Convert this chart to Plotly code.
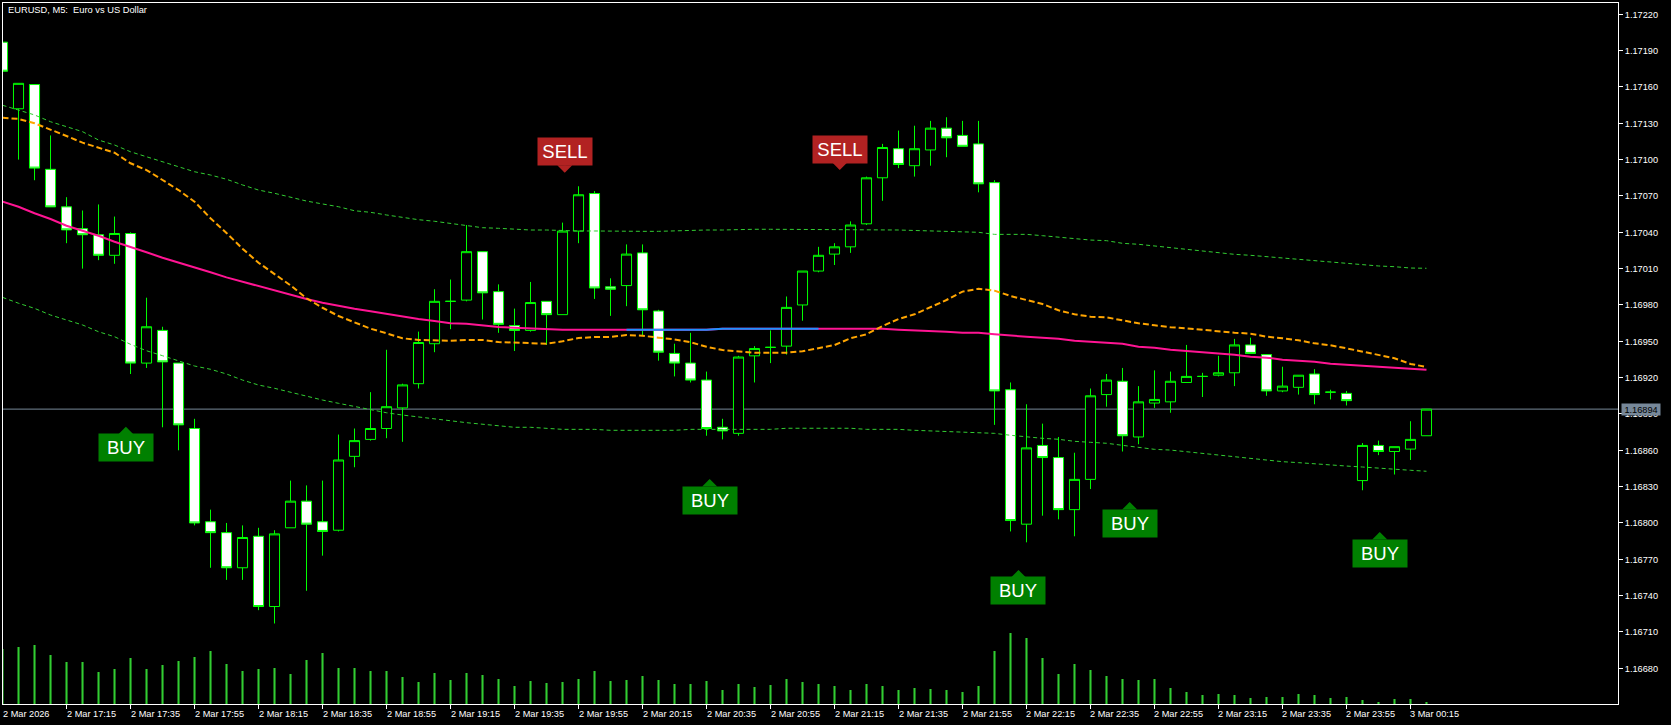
import plotly.graph_objects as go

# ---------------- data ----------------
x_tick_labels = ["2 Mar 2026", "2 Mar 17:15", "2 Mar 17:35", "2 Mar 17:55", "2 Mar 18:15",
                 "2 Mar 18:35", "2 Mar 18:55", "2 Mar 19:15", "2 Mar 19:35", "2 Mar 19:55",
                 "2 Mar 20:15", "2 Mar 20:35", "2 Mar 20:55", "2 Mar 21:15", "2 Mar 21:35",
                 "2 Mar 21:55", "2 Mar 22:15", "2 Mar 22:35", "2 Mar 22:55", "2 Mar 23:15",
                 "2 Mar 23:35", "2 Mar 23:55", "3 Mar 00:15"]
x_tick_bars = [0, 4, 8, 12, 16, 20, 24, 28, 32, 36, 40, 44, 48, 52, 56, 60, 64, 68, 72, 76, 80, 84, 88]

y_tick_values = [1.16680, 1.16710, 1.16740, 1.16770, 1.16800, 1.16830, 1.16860, 1.16890,
                 1.16920, 1.16950, 1.16980, 1.17010, 1.17040, 1.17070, 1.17100, 1.17130,
                 1.17160, 1.17190, 1.17220]

open_ = [1.17197, 1.17142, 1.17162, 1.17092, 1.17061, 1.17043, 1.17038, 1.17021, 1.17039, 1.16932,
         1.16959, 1.16932, 1.16878, 1.16801, 1.16792, 1.16763, 1.16789, 1.16731, 1.16796, 1.16818,
         1.16801, 1.16794, 1.16855, 1.16869, 1.16878, 1.16895, 1.16915, 1.16948, 1.16983, 1.16984,
         1.17024, 1.16991, 1.16963, 1.16959, 1.16983, 1.16972, 1.17041, 1.17072, 1.16995, 1.16996,
         1.17023, 1.16975, 1.16940, 1.16932, 1.16918, 1.16879, 1.16874, 1.16938, 1.16945, 1.16946,
         1.16980, 1.17008, 1.17022, 1.17028, 1.17047, 1.17085, 1.17109, 1.17095, 1.17108, 1.17126,
         1.17120, 1.17113, 1.17081, 1.16910, 1.16799, 1.16864, 1.16854, 1.16811, 1.16836, 1.16906,
         1.16917, 1.16871, 1.16899, 1.16900, 1.16916, 1.16921, 1.16922, 1.16924, 1.16947, 1.16939,
         1.16909, 1.16912, 1.16923, 1.16908, 1.16907, 1.16835, 1.16864, 1.16859, 1.16861, 1.16872]

high = [1.17199, 1.17163, 1.17162, 1.17120, 1.17069, 1.17058, 1.17063, 1.17053, 1.17040, 1.16986,
        1.16962, 1.16932, 1.16886, 1.16811, 1.16800, 1.16798, 1.16796, 1.16794, 1.16835, 1.16831,
        1.16835, 1.16873, 1.16878, 1.16908, 1.16943, 1.16915, 1.16958, 1.16993, 1.17001, 1.17046,
        1.17024, 1.16997, 1.16977, 1.16999, 1.16983, 1.17048, 1.17078, 1.17074, 1.17002, 1.17030,
        1.17030, 1.16976, 1.16948, 1.16957, 1.16925, 1.16886, 1.16938, 1.16946, 1.16959, 1.16987,
        1.17008, 1.17028, 1.17031, 1.17049, 1.17086, 1.17113, 1.17124, 1.17128, 1.17132, 1.17135,
        1.17132, 1.17132, 1.17083, 1.16916, 1.16898, 1.16882, 1.16871, 1.16858, 1.16911, 1.16923,
        1.16928, 1.16913, 1.16926, 1.16925, 1.16947, 1.16924, 1.16938, 1.16952, 1.16953, 1.16939,
        1.16929, 1.16922, 1.16927, 1.16910, 1.16909, 1.16866, 1.16868, 1.16863, 1.16884, 1.16894]

low = [1.17172, 1.17100, 1.17083, 1.17061, 1.17031, 1.17010, 1.17017, 1.17014, 1.16923, 1.16928,
       1.16879, 1.16860, 1.16798, 1.16763, 1.16753, 1.16753, 1.16728, 1.16717, 1.16796, 1.16744,
       1.16773, 1.16793, 1.16846, 1.16868, 1.16870, 1.16867, 1.16911, 1.16941, 1.16960, 1.16983,
       1.16968, 1.16957, 1.16942, 1.16958, 1.16947, 1.16972, 1.17031, 1.16985, 1.16971, 1.16979,
       1.16955, 1.16934, 1.16921, 1.16916, 1.16872, 1.16869, 1.16872, 1.16916, 1.16932, 1.16939,
       1.16967, 1.17007, 1.17013, 1.17023, 1.17046, 1.17066, 1.17093, 1.17086, 1.17095, 1.17102,
       1.17111, 1.17073, 1.16881, 1.16793, 1.16784, 1.16806, 1.16803, 1.16789, 1.16828, 1.16896,
       1.16859, 1.16865, 1.16895, 1.16891, 1.16916, 1.16904, 1.16921, 1.16913, 1.16940, 1.16905,
       1.16908, 1.16906, 1.16898, 1.16902, 1.16897, 1.16827, 1.16856, 1.16840, 1.16852, 1.16872]

close = [1.17173, 1.17163, 1.17093, 1.17061, 1.17042, 1.17038, 1.17021, 1.17039, 1.16932, 1.16962,
         1.16933, 1.16881, 1.16800, 1.16792, 1.16763, 1.16788, 1.16731, 1.16791, 1.16818, 1.16799,
         1.16793, 1.16852, 1.16868, 1.16878, 1.16896, 1.16914, 1.16949, 1.16983, 1.16983, 1.17024,
         1.16990, 1.16964, 1.16959, 1.16982, 1.16972, 1.17041, 1.17071, 1.16994, 1.16993, 1.17022,
         1.16976, 1.16941, 1.16932, 1.16918, 1.16878, 1.16876, 1.16937, 1.16944, 1.16945, 1.16978,
         1.17008, 1.17021, 1.17028, 1.17046, 1.17085, 1.17110, 1.17096, 1.17109, 1.17126, 1.17118,
         1.17111, 1.17080, 1.16909, 1.16802, 1.16862, 1.16854, 1.16811, 1.16836, 1.16905, 1.16918,
         1.16872, 1.16900, 1.16902, 1.16917, 1.16921, 1.16921, 1.16924, 1.16947, 1.16940, 1.16909,
         1.16913, 1.16922, 1.16906, 1.16908, 1.16901, 1.16864, 1.16859, 1.16863, 1.16869, 1.16894]

volume = [550, 570, 590, 490, 420, 420, 320, 350, 460, 350,
          390, 430, 470, 530, 400, 330, 350, 360, 300, 440,
          510, 360, 360, 330, 330, 270, 220, 310, 240, 310,
          290, 250, 180, 230, 210, 220, 250, 330, 230, 240,
          280, 240, 200, 200, 230, 140, 200, 170, 190, 250,
          220, 200, 180, 140, 200, 180, 140, 160, 150, 140,
          120, 180, 530, 710, 660, 460, 300, 400, 340, 280,
          250, 240, 250, 160, 120, 90, 100, 90, 60, 70,
          70, 100, 90, 60, 70, 40, 20, 50, 50, 20]

ma_fast = [1.171346, 1.171336, 1.171300, 1.171250, 1.171195, 1.171140, 1.171099, 1.171057, 1.170970, 1.170914,
           1.170832, 1.170749, 1.170653, 1.170516, 1.170394, 1.170265, 1.170149, 1.170056, 1.169962, 1.169855,
           1.169777, 1.169709, 1.169654, 1.169604, 1.169566, 1.169525, 1.169511, 1.169505, 1.169505, 1.169511,
           1.169511, 1.169494, 1.169488, 1.169480, 1.169480, 1.169500, 1.169527, 1.169535, 1.169535, 1.169552,
           1.169546, 1.169530, 1.169516, 1.169492, 1.169455, 1.169428, 1.169414, 1.169406, 1.169406, 1.169406,
           1.169418, 1.169442, 1.169469, 1.169525, 1.169558, 1.169626, 1.169684, 1.169723, 1.169781, 1.169841,
           1.169910, 1.169934, 1.169918, 1.169874, 1.169841, 1.169808, 1.169756, 1.169723, 1.169703, 1.169698,
           1.169673, 1.169649, 1.169632, 1.169616, 1.169607, 1.169593, 1.169579, 1.169571, 1.169563, 1.169538,
           1.169525, 1.169508, 1.169483, 1.169467, 1.169442, 1.169414, 1.169387, 1.169360, 1.169313, 1.169288]

ma_slow = [1.170653, 1.170611, 1.170557, 1.170510, 1.170454, 1.170411, 1.170372, 1.170322, 1.170281, 1.170235,
           1.170190, 1.170152, 1.170108, 1.170070, 1.170028, 1.169992, 1.169957, 1.169918, 1.169885, 1.169849,
           1.169819, 1.169791, 1.169769, 1.169748, 1.169725, 1.169701, 1.169684, 1.169668, 1.169649, 1.169645,
           1.169632, 1.169618, 1.169612, 1.169607, 1.169596, 1.169596, 1.169596, 1.169596, 1.169596, 1.169596,
           1.169596, 1.169596, 1.169596, 1.169596, 1.169596, 1.169604, 1.169604, 1.169604, 1.169604, 1.169604,
           1.169604, 1.169604, 1.169604, 1.169604, 1.169604, 1.169604, 1.169596, 1.169592, 1.169588, 1.169579,
           1.169571, 1.169571, 1.169558, 1.169546, 1.169538, 1.169530, 1.169521, 1.169505, 1.169497, 1.169488,
           1.169480, 1.169455, 1.169447, 1.169431, 1.169422, 1.169407, 1.169398, 1.169389, 1.169373, 1.169365,
           1.169348, 1.169340, 1.169332, 1.169315, 1.169307, 1.169298, 1.169290, 1.169282, 1.169274, 1.169265]

flat_start, flat_end = 39, 51   # bars where the slow MA is drawn in blue

band_upper = [1.171449, 1.171410, 1.171369, 1.171313, 1.171272, 1.171231, 1.171162, 1.171121, 1.171065, 1.171024,
              1.170983, 1.170942, 1.170900, 1.170873, 1.170838, 1.170791, 1.170749, 1.170722, 1.170689, 1.170658,
              1.170634, 1.170611, 1.170578, 1.170565, 1.170543, 1.170522, 1.170504, 1.170491, 1.170474, 1.170452,
              1.170438, 1.170433, 1.170425, 1.170419, 1.170419, 1.170413, 1.170411, 1.170411, 1.170408, 1.170408,
              1.170408, 1.170408, 1.170413, 1.170416, 1.170419, 1.170419, 1.170425, 1.170425, 1.170425, 1.170425,
              1.170425, 1.170425, 1.170425, 1.170425, 1.170425, 1.170425, 1.170419, 1.170415, 1.170411, 1.170408,
              1.170400, 1.170400, 1.170383, 1.170383, 1.170383, 1.170372, 1.170359, 1.170347, 1.170336, 1.170331,
              1.170309, 1.170301, 1.170287, 1.170276, 1.170265, 1.170250, 1.170231, 1.170218, 1.170210, 1.170199,
              1.170185, 1.170177, 1.170161, 1.170152, 1.170141, 1.170132, 1.170122, 1.170116, 1.170105, 1.170103]

band_lower = [1.169863, 1.169814, 1.169772, 1.169717, 1.169676, 1.169635, 1.169579, 1.169538, 1.169475, 1.169422,
              1.169381, 1.169340, 1.169296, 1.169269, 1.169230, 1.169180, 1.169139, 1.169112, 1.169079, 1.169048,
              1.169015, 1.168988, 1.168960, 1.168933, 1.168910, 1.168891, 1.168877, 1.168858, 1.168844, 1.168828,
              1.168817, 1.168803, 1.168790, 1.168790, 1.168782, 1.168773, 1.168773, 1.168773, 1.168765, 1.168765,
              1.168765, 1.168765, 1.168765, 1.168773, 1.168773, 1.168773, 1.168773, 1.168773, 1.168773, 1.168782,
              1.168782, 1.168782, 1.168782, 1.168782, 1.168773, 1.168773, 1.168773, 1.168765, 1.168761, 1.168757,
              1.168749, 1.168744, 1.168740, 1.168724, 1.168710, 1.168699, 1.168691, 1.168674, 1.168666, 1.168658,
              1.168641, 1.168625, 1.168608, 1.168602, 1.168588, 1.168575, 1.168561, 1.168547, 1.168534, 1.168520,
              1.168506, 1.168498, 1.168487, 1.168479, 1.168470, 1.168462, 1.168451, 1.168443, 1.168435, 1.168427]

signal_bar = [7.71, 35.14, 44.2, 52.33, 63.5, 70.45, 86.08]
signal_price = [1.168795, 1.170892, 1.168363, 1.170914, 1.167612, 1.168173, 1.167925]
signal_type = ["BUY", "SELL", "BUY", "SELL", "BUY", "BUY", "BUY"]

# ---------------- figure ----------------
bars = list(range(len(close)))
FONT = "Liberation Sans, Arial, sans-serif"
GREEN = "#00FF00"
X_RANGE = [0.03, 100.97]

fig = go.Figure()

fig.add_trace(go.Bar(x=bars, y=volume, yaxis="y2", width=0.13,
                     marker=dict(color="#32CD32", line=dict(width=0)), hoverinfo="skip"))

fig.add_trace(go.Candlestick(
    x=bars, open=open_, high=high, low=low, close=close, whiskerwidth=0,
    increasing=dict(line=dict(color=GREEN, width=1), fillcolor="#000000"),
    decreasing=dict(line=dict(color=GREEN, width=1), fillcolor="#FFFFFF"),
    hoverinfo="skip"))

fig.add_trace(go.Scatter(x=bars, y=band_upper, mode="lines",
                         line=dict(color="#32CD32", width=1, dash="4px,3px"), hoverinfo="skip"))
fig.add_trace(go.Scatter(x=bars, y=band_lower, mode="lines",
                         line=dict(color="#32CD32", width=1, dash="4px,3px"), hoverinfo="skip"))
fig.add_trace(go.Scatter(x=bars, y=ma_slow, mode="lines",
                         line=dict(color="#FF1493", width=2), hoverinfo="skip"))
fig.add_trace(go.Scatter(x=bars[flat_start:flat_end + 1], y=ma_slow[flat_start:flat_end + 1], mode="lines",
                         line=dict(color="#1E90FF", width=2), hoverinfo="skip"))
fig.add_trace(go.Scatter(x=bars, y=ma_fast, mode="lines",
                         line=dict(color="#FFA500", width=2, dash="6px,3px"), hoverinfo="skip"))

# current price line
fig.add_shape(type="line", xref="paper", x0=0, x1=1, yref="y", y0=close[-1], y1=close[-1],
              line=dict(color="#778899", width=1), layer="below")
fig.add_annotation(xref="paper", x=1, xanchor="left", xshift=3, yref="y", y=close[-1], yanchor="middle",
                   text=f"{close[-1]:.5f}", showarrow=False, bgcolor="#778899", width=38, height=11,
                   borderpad=0, font=dict(family=FONT, size=9.2, color="#000000"))

# title
fig.add_annotation(xref="paper", x=0, xanchor="left", xshift=3, yref="paper", y=1, yanchor="middle",
                   yshift=-6.5, text="EURUSD, M5:\u00a0 Euro vs US Dollar", showarrow=False,
                   font=dict(family=FONT, size=9.3, color="#FFFFFF"))

# x tick labels (left aligned at tick, like the terminal)
px_per_bar = 1615 / (X_RANGE[1] - X_RANGE[0])
for pos, lab in zip(x_tick_bars, x_tick_labels):
    anchor = max(pos, X_RANGE[0])
    shift = -2 - (anchor - pos) * px_per_bar
    fig.add_annotation(xref="x", x=anchor, xanchor="left", xshift=shift, yref="paper", y=0,
                       yanchor="middle", yshift=-9.5, text=lab, showarrow=False,
                       font=dict(family=FONT, size=9.2, color="#FFFFFF"))

# signals
for b, p, t in zip(signal_bar, signal_price, signal_type):
    is_buy = t == "BUY"
    col = "#008000" if is_buy else "#B22222"
    fig.add_annotation(xref="x", x=b, yref="y", y=p, text=t, showarrow=True,
                       arrowhead=1, arrowsize=1, arrowwidth=2.5, arrowcolor=col, standoff=0,
                       ax=0, ay=21 if is_buy else -21,
                       bgcolor=col, width=54, height=27, borderpad=0, align="center",
                       font=dict(family=FONT, size=18.5, color="#FFFFFF"))

fig.update_layout(
    width=1671, height=725,
    margin=dict(l=3, r=53, t=3, b=21),
    paper_bgcolor="#000000", plot_bgcolor="#000000",
    showlegend=False, boxgap=0.37, boxgroupgap=0,
    xaxis=dict(range=X_RANGE, showgrid=False, zeroline=False, rangeslider=dict(visible=False),
               showline=True, linecolor="#FFFFFF", linewidth=1, mirror=True,
               tickmode="array", tickvals=x_tick_bars, ticks="outside", ticklen=4,
               tickcolor="#FFFFFF", showticklabels=False),
    yaxis=dict(range=[1.1665052, 1.1722933], side="right", showgrid=False, zeroline=False,
               showline=True, linecolor="#FFFFFF", linewidth=1, mirror=True,
               tickmode="array", tickvals=y_tick_values, tickformat=".5f",
               ticks="outside", ticklen=4, tickcolor="#FFFFFF",
               tickfont=dict(family=FONT, size=9.2, color="#FFFFFF")),
    yaxis2=dict(range=[0, 7010], overlaying="y", visible=False, showgrid=False, zeroline=False),
)

fig.write_html("out.html", config={"displayModeBar": False},
               post_script="document.body.style.margin='0';")
